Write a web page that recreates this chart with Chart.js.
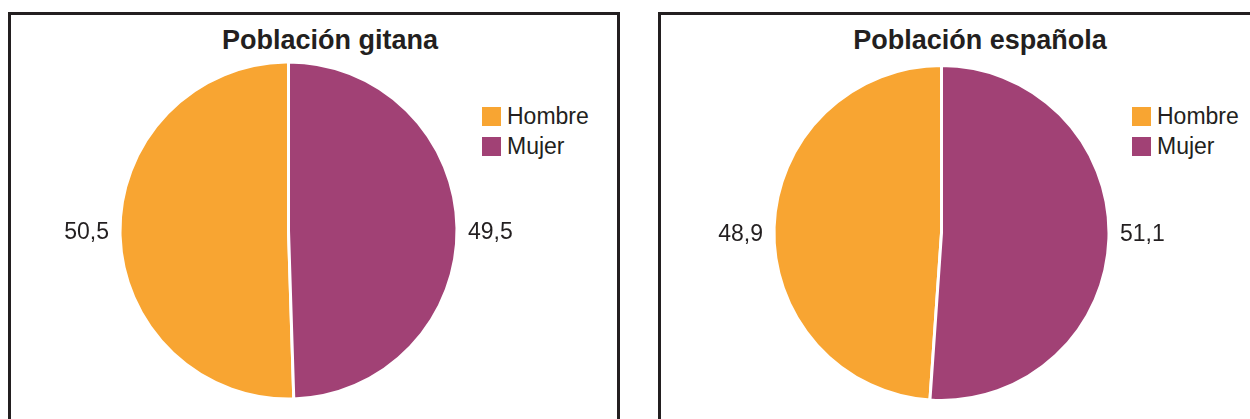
<!DOCTYPE html>
<html lang="es">
<head>
<meta charset="utf-8">
<title>Población por sexo</title>
<script src="https://cdn.jsdelivr.net/npm/chart.js@4.4.1/dist/chart.umd.min.js"></script>
<style>
  html, body { margin: 0; padding: 0; background: #fff; }
  body { width: 1250px; height: 419px; position: relative; overflow: hidden;
         font-family: "Liberation Sans", Arial, Helvetica, sans-serif; color: #231f20; }
  .panel { position: absolute; top: 12px; height: 460px; border: 3px solid #231f20; box-sizing: border-box; }
  .title { position: absolute; font-weight: bold; font-size: 27px; line-height: 27px;
           white-space: nowrap; transform: translateX(-50%); }
  .legend { position: absolute; font-size: 23px; line-height: 23px; }
  .legend .row { position: absolute; left: 0; white-space: nowrap; }
  .legend .sw { position: absolute; left: 0; width: 19px; height: 19px; }
  .legend .lbl { position: absolute; left: 25px; }
  canvas { position: absolute; }
</style>
</head>
<body>
<div class="panel" style="left:8px; width:612px;"></div>
<div class="panel" style="left:658px; width:640px;"></div>

<div class="title" style="left:330px; top:27px;">Población gitana</div>
<div class="title" style="left:980px; top:27px;">Población española</div>

<div class="legend" id="legend1" style="left:482px; top:107px;"></div>
<div class="legend" id="legend2" style="left:1132px; top:107px;"></div>

<canvas id="chart1" width="606" height="404" style="left:11px; top:15px;"></canvas>
<canvas id="chart2" width="589" height="404" style="left:661px; top:15px;"></canvas>

<script>
// data
const categories = ["Hombre", "Mujer"];
const gitana = [50.5, 49.5];
const espanola = [48.9, 51.1];
const colors = ["#f8a532", "#a14175"];

// value labels beside the pie, on the side where each slice lies
const outsideLabels = {
  id: "outsideLabels",
  afterDatasetsDraw(chart) {
    const ctx = chart.ctx;
    const meta = chart.getDatasetMeta(0);
    const values = chart.data.datasets[0].data;
    ctx.save();
    ctx.font = "23px 'Liberation Sans', Arial, sans-serif";
    ctx.fillStyle = "#231f20";
    ctx.textBaseline = "middle";
    meta.data.forEach((arc, i) => {
      const p = arc.getProps(["x", "y", "startAngle", "endAngle", "outerRadius"], true);
      const mid = (p.startAngle + p.endAngle) / 2;
      const r = p.outerRadius + 11;
      const side = Math.cos(mid) < 0 ? -1 : 1;
      ctx.textAlign = side < 0 ? "right" : "left";
      ctx.fillText(values[i].toFixed(1).replace(".", ","), p.x + side * r, p.y + 2);
    });
    ctx.restore();
  }
};

function buildLegend(el) {
  categories.forEach((c, i) => {
    const row = document.createElement("div");
    row.className = "row";
    row.style.top = (i * 30) + "px";
    row.innerHTML = '<span class="sw" style="background:' + colors[i] + '"></span>' +
                    '<span class="lbl" style="top:-2px">' + c + '</span>';
    el.appendChild(row);
  });
}

function makePie(id, values, radius, padding) {
  return new Chart(document.getElementById(id), {
    type: "pie",
    data: {
      labels: categories,
      datasets: [{
        data: values,
        backgroundColor: colors,
        borderColor: "#ffffff",
        borderWidth: 3,
        clip: false
      }]
    },
    options: {
      responsive: false,
      animation: false,
      devicePixelRatio: 1,
      // Hombre runs counter-clockwise from the top
      rotation: values[1] * 3.6,
      radius: radius,
      layout: { padding: padding },
      events: [],
      plugins: { legend: { display: false }, title: { display: false }, tooltip: { enabled: false } }
    },
    plugins: [outsideLabels]
  });
}

buildLegend(document.getElementById("legend1"));
buildLegend(document.getElementById("legend2"));

makePie("chart1", gitana, 168.5, { top: 27, right: 51, bottom: 0, left: 0 });
makePie("chart2", espanola, 167.5, { top: 32, right: 28, bottom: 0, left: 0 });
</script>
</body>
</html>
